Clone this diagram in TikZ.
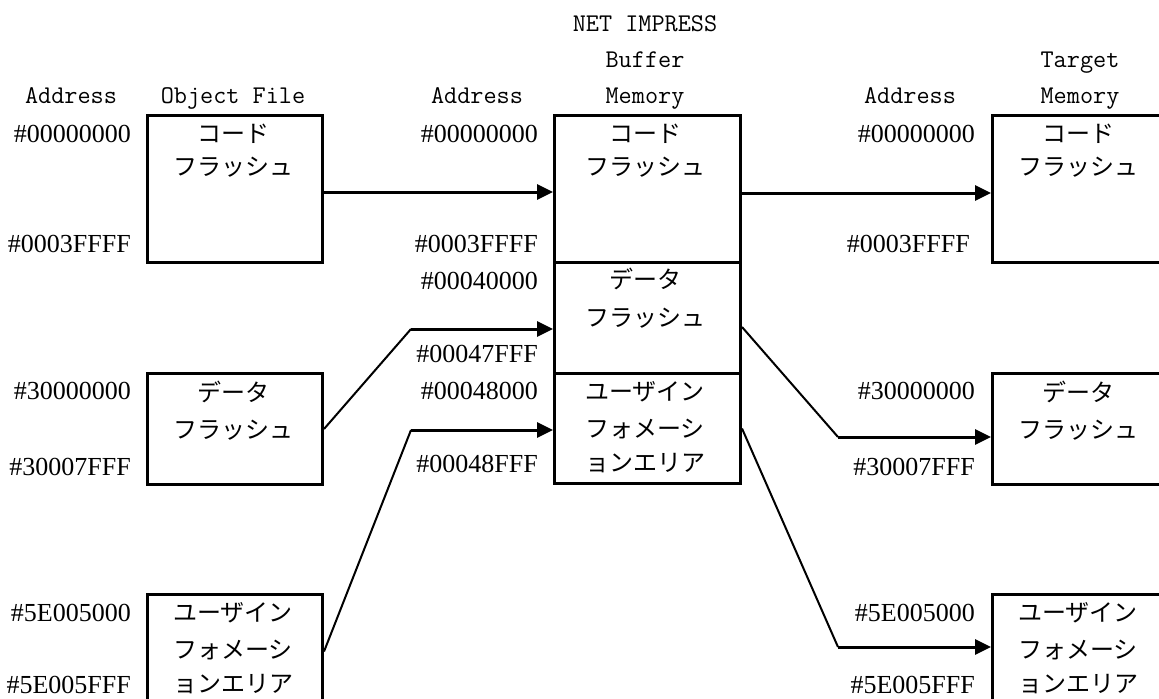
\documentclass[tikz,border=0pt]{standalone}
\usepackage{fontspec}
\usetikzlibrary{arrows.meta}
\newfontfamily\jpfont{Noto Sans CJK JP}
\newfontfamily\addrfont{Liberation Serif}
\tikzset{
  box/.style={draw, line width=3bp, inner sep=0pt, anchor=north west, minimum width=175bp},
  hdr/.style={font=\ttfamily\fontsize{25.5bp}{30bp}\selectfont, inner sep=0pt, anchor=base},
  addr/.style={font=\addrfont\fontsize{26bp}{30bp}\selectfont, inner sep=0pt, anchor=base east},
  jp/.style={font=\jpfont\fontsize{24bp}{28bp}\selectfont, inner sep=0pt, anchor=center},
  arr/.style={line width=3bp, -{Triangle[length=16bp,width=15bp]}},
  slant/.style={line width=2bp}
}
\begin{document}
\begin{tikzpicture}[x=1bp,y=-1bp]
\useasboundingbox (0,0) rectangle (1159,699);
% headers
\node[hdr] (h1) at (71,104) {Address};
\node[hdr] (h2) at (233,104) {Object File};
\node[hdr] (h3) at (477,104) {Address};
\node[hdr] (h4) at (645,32) {NET IMPRESS};
\node[hdr] (h5) at (645,68) {Buffer};
\node[hdr] (h6) at (645,104) {Memory};
\node[hdr] (h7) at (910,104) {Address};
\node[hdr] (h8) at (1080,68) {Target};
\node[hdr] (h9) at (1080,104) {Memory};
% boxes
\node[box, minimum height=147bp] (obj1) at (146,114) {};
\node[box, minimum height=111bp] (obj2) at (146,372) {};
\node[box, minimum height=114bp] (obj3) at (146,593) {};
\node[box, minimum width=186bp, minimum height=147bp] (buf1) at (553,114) {};
\node[box, minimum width=186bp, minimum height=111bp] (buf2) at (553,261) {};
\node[box, minimum width=186bp, minimum height=110bp] (buf3) at (553,372) {};
\node[box, minimum height=147bp] (tgt1) at (991,114) {};
\node[box, minimum height=111bp] (tgt2) at (991,372) {};
\node[box, minimum height=114bp] (tgt3) at (991,593) {};
% box texts
\node[jp] (o1a) at (233,134) {コード};
\node[jp] (o1b) at (233,167) {フラッシュ};
\node[jp] (o2a) at (233,392) {データ};
\node[jp] (o2b) at (233,430) {フラッシュ};
\node[jp] (o3a) at (233,613) {ユーザイン};
\node[jp] (o3b) at (233,650) {フォメーシ};
\node[jp] (o3c) at (233,684) {ョンエリア};
\node[jp] (b1a) at (645,134) {コード};
\node[jp] (b1b) at (645,167) {フラッシュ};
\node[jp] (b2a) at (645,279) {データ};
\node[jp] (b2b) at (645,318) {フラッシュ};
\node[jp] (b3a) at (645,392) {ユーザイン};
\node[jp] (b3b) at (645,429) {フォメーシ};
\node[jp] (b3c) at (645,463) {ョンエリア};
\node[jp] (t1a) at (1078,134) {コード};
\node[jp] (t1b) at (1078,167) {フラッシュ};
\node[jp] (t2a) at (1078,392) {データ};
\node[jp] (t2b) at (1078,430) {フラッシュ};
\node[jp] (t3a) at (1078,613) {ユーザイン};
\node[jp] (t3b) at (1078,650) {フォメーシ};
\node[jp] (t3c) at (1078,684) {ョンエリア};
% addresses
\node[addr] (a1) at (131,143) {\#00000000};
\node[addr] (a2) at (131,252) {\#0003FFFF};
\node[addr] (a3) at (131,399) {\#30000000};
\node[addr] (a4) at (131,475) {\#30007FFF};
\node[addr] (a5) at (131,621) {\#5E005000};
\node[addr] (a6) at (131,693) {\#5E005FFF};
\node[addr] (m1) at (538,143) {\#00000000};
\node[addr] (m2) at (538,252) {\#0003FFFF};
\node[addr] (m3) at (538,289) {\#00040000};
\node[addr] (m4) at (538,362) {\#00047FFF};
\node[addr] (m5) at (538,399) {\#00048000};
\node[addr] (m6) at (538,472) {\#00048FFF};
\node[addr] (r1) at (975,143) {\#00000000};
\node[addr] (r2) at (970,252) {\#0003FFFF};
\node[addr] (r3) at (975,399) {\#30000000};
\node[addr] (r4) at (975,475) {\#30007FFF};
\node[addr] (r5) at (975,621) {\#5E005000};
\node[addr] (r6) at (975,693) {\#5E005FFF};
% connectors
\coordinate (k1) at (411,329);
\coordinate (k2) at (411,430);
\coordinate (k3) at (838,437);
\coordinate (k4) at (838,647);
\draw[arr] ([yshift=-3bp]obj1.east) -- ([yshift=-3bp]buf1.west);
\draw[arr] ([yshift=-4bp]buf1.east) -- ([yshift=-4bp]tgt1.west);
\draw[slant] (obj2.east) -- (k1);
\draw[arr] (k1) -- (k1 -| buf2.west);
\draw[slant] (obj3.east) -- (k2);
\draw[arr] (k2) -- (k2 -| buf3.west);
\draw[slant] ([yshift=-9bp]buf2.east) -- (k3);
\draw[arr] (k3) -- (k3 -| tgt2.west);
\draw[slant] (buf3.east) -- (k4);
\draw[arr] (k4) -- (k4 -| tgt3.west);
\end{tikzpicture}
\end{document}
